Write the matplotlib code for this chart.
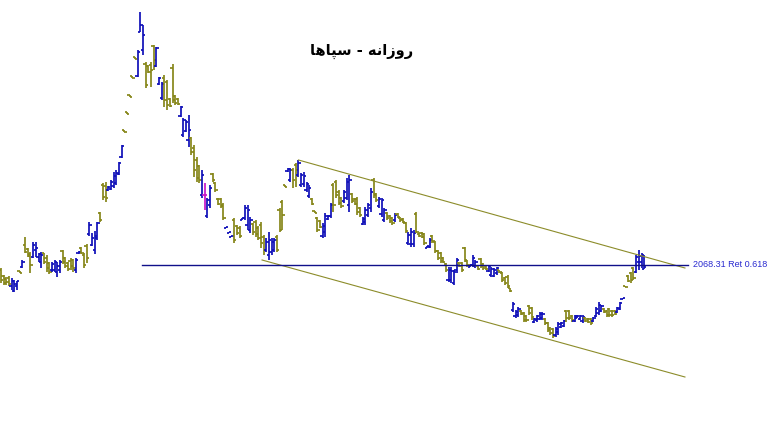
import matplotlib
matplotlib.use("Agg")
import matplotlib.pyplot as plt
from matplotlib.collections import LineCollection

# ---- data (daily OHLC) ----
opens = [2018,1958,1928,1938,1858,1808,1858,2008,2048,2268,
2228,2178,2148,2218,2148,2098,2188,2138,2088,2018,
2018,1998,2018,2208,2138,2088,2108,2118,2018,2188,
2238,2168,2258,2378,2268,2218,2338,2588,2868,2858,
2818,2828,2858,2888,2978,3148,3418,3598,3768,3958,
4148,3958,4398,4218,4078,4058,4068,4258,4058,3878,
3738,3938,3898,3728,4038,3758,3728,3558,3368,3408,
3318,3338,3238,3118,3058,2768,2768,2558,2668,2978,
2888,2728,2728,2668,2438,2388,2348,2518,2458,2438,
2518,2538,2468,2418,2478,2498,2438,2468,2348,2218,
2168,2198,2218,2348,2618,2698,2868,3008,2918,3018,
3068,2968,2868,2878,2818,2758,2728,2608,2538,2508,
2358,2398,2528,2558,2868,2898,2798,2738,2708,2738,
2668,2778,2728,2728,2638,2478,2498,2568,2638,2918,
2778,2658,2578,2518,2588,2558,2538,2518,2578,2538,
2528,2488,2288,2278,2278,2578,2378,2388,2378,2238,
2248,2358,2298,2208,2188,2138,2078,1918,1918,1888,
2018,2088,2088,2238,2108,2048,2068,2058,2058,2128,
2078,2058,2008,1968,1958,1988,2018,1988,1938,1948,
1838,1618,1558,1568,1608,1588,1558,1658,1638,1498,
1518,1528,1538,1528,1488,1438,1428,1368,1398,1448,
1458,1608,1608,1558,1508,1538,1528,1508,1538,1528,
1528,1508,1558,1588,1608,1628,1608,1628,1608,1608,
1598,1628,1728,1858,1958,1988,2038,1998,2098,2098,
2028]

highs = [2038,1968,1948,1958,1938,1918,1908,2008,2118,2348,
2238,2198,2298,2298,2188,2198,2188,2168,2098,2098,
2118,2098,2118,2218,2148,2098,2138,2128,2138,2208,
2248,2188,2278,2498,2388,2408,2498,2598,2888,2898,
2858,2918,2998,3018,3098,3268,3418,3598,3768,3958,
4148,4218,4598,4468,4098,4068,4098,4268,4248,3948,
3898,3968,3918,3738,4078,3768,3738,3658,3538,3518,
3568,3348,3268,3148,3068,3018,2888,2738,2868,2988,
2898,2738,2738,2688,2448,2398,2358,2538,2468,2458,
2538,2668,2668,2548,2488,2518,2458,2498,2368,2338,
2398,2338,2338,2368,2638,2718,2868,3038,3038,3038,
3088,3118,2988,2998,2898,2868,2738,2608,2548,2518,
2488,2588,2568,2688,2888,2918,2818,2748,2818,2938,
2968,2788,2738,2748,2648,2548,2648,2688,2838,2938,
2788,2748,2738,2638,2598,2568,2548,2588,2588,2548,
2538,2498,2398,2438,2418,2598,2388,2398,2388,2258,
2338,2368,2308,2218,2198,2148,2088,2048,2048,2018,
2138,2098,2098,2248,2118,2068,2168,2118,2068,2138,
2088,2068,2068,2048,2038,2048,2018,1998,1948,1968,
1838,1698,1618,1648,1618,1598,1568,1668,1648,1538,
1568,1598,1598,1538,1498,1448,1438,1448,1498,1498,
1518,1618,1618,1568,1568,1568,1568,1568,1548,1538,
1538,1548,1648,1698,1668,1638,1618,1638,1618,1618,
1648,1698,1738,1858,1968,1998,2048,2168,2218,2188,
2168]

lows = [1888,1868,1868,1858,1818,1798,1818,1988,2038,2188,
2148,1988,2138,2148,2098,2038,2078,1998,1978,1998,
1998,1948,1988,2078,2038,2008,2018,1998,1988,2178,
2178,2038,2088,2358,2258,2178,2318,2498,2718,2698,
2808,2818,2838,2868,2968,3138,3398,3578,3748,3938,
4128,3948,4398,4168,3838,3988,3848,4018,4048,3868,
3718,3648,3618,3648,3688,3668,3668,3548,3348,3398,
3248,3168,2948,2898,2888,2738,2618,2538,2638,2898,
2798,2668,2638,2518,2438,2388,2348,2288,2368,2338,
2518,2518,2418,2388,2368,2348,2318,2238,2168,2198,
2118,2168,2198,2198,2398,2418,2848,2998,2898,2838,
2848,2948,2848,2848,2798,2738,2668,2588,2398,2438,
2338,2348,2518,2538,2598,2738,2668,2638,2688,2718,
2598,2688,2668,2568,2548,2468,2468,2548,2598,2738,
2698,2638,2548,2498,2518,2488,2468,2498,2538,2498,
2488,2388,2268,2248,2248,2388,2348,2338,2268,2238,
2238,2288,2188,2118,2088,2088,1998,1898,1888,1868,
1988,2048,1998,2098,2048,2048,2048,2038,2018,2038,
2018,2018,1998,1948,1948,1968,1988,1898,1868,1838,
1798,1598,1538,1548,1568,1498,1498,1568,1518,1488,
1498,1518,1518,1468,1398,1368,1338,1348,1368,1438,
1448,1498,1518,1498,1498,1538,1518,1488,1498,1488,
1468,1498,1548,1568,1598,1588,1548,1548,1548,1568,
1588,1618,1728,1848,1898,1888,1918,1988,2018,2038,
2028]

closes = [1918,1888,1898,1878,1908,1878,1908,1988,2098,2198,
2158,2068,2268,2238,2178,2168,2098,2038,1998,2078,
2098,2058,2098,2098,2058,2028,2058,2038,2118,2198,
2188,2068,2138,2468,2338,2358,2488,2518,2748,2738,
2848,2898,2958,2988,3088,3258,3398,3578,3748,3938,
4128,4198,4468,4368,3868,3998,4018,4118,4238,3938,
3878,3718,3668,3658,3718,3688,3678,3648,3518,3498,
3418,3198,3018,2938,2918,2968,2768,2718,2838,2918,
2818,2678,2658,2538,2448,2398,2358,2318,2388,2358,
2538,2638,2618,2518,2398,2378,2338,2288,2218,2298,
2318,2298,2318,2218,2418,2568,2848,3028,3018,2918,
3018,3088,2968,2958,2878,2838,2678,2588,2418,2448,
2458,2558,2558,2668,2668,2768,2688,2658,2798,2898,
2918,2708,2678,2598,2568,2528,2618,2668,2798,2768,
2718,2728,2718,2618,2538,2508,2488,2568,2548,2518,
2498,2408,2368,2398,2388,2398,2358,2348,2288,2258,
2318,2308,2208,2138,2108,2098,2018,2018,2008,1998,
2118,2058,2018,2118,2068,2068,2138,2098,2028,2058,
2038,2028,2058,2028,2018,2038,1998,1918,1888,1858,
1808,1678,1598,1628,1578,1518,1518,1588,1548,1528,
1558,1578,1578,1488,1418,1388,1358,1428,1478,1488,
1508,1538,1538,1518,1558,1558,1558,1548,1508,1498,
1488,1538,1628,1668,1658,1598,1568,1568,1568,1578,
1638,1688,1738,1848,1908,1918,1938,2148,2158,2168,
2048]

# channel anchors (bar index, price) and retracement level
upper_bar = [111, 255.2]
upper_price = [3118, 2038]
lower_bar = [97.4, 255.2]
lower_price = [2118, 948]
ret_level = 2068.31
ret_bars = [52.6, 256.3]
ret_label = "2068.31 Ret 0.618"

# title "سپاها - روزانه" as Arabic presentation forms in visual (left-to-right) order,
# because matplotlib lays glyphs out left to right without shaping
title = "\uFE8E\uFEEB\uFE8E\uFB59\uFEB3 - \uFEEA\uFEE7\uFE8D\uFEAF\uFEED\uFEAD"

BLUE = "#1010b8"
OLIVE = "#86861a"
MAGENTA = "#c818c8"

fig = plt.figure(figsize=(7.81, 4.41), dpi=100)
ax = fig.add_axes([0, 0, 1, 1])
ax.axis("off")
ax.set_xlim(-0.373, 291.04)
ax.set_ylim(308, 4718)

w = 0.85
segs, cols = [], []
for i, (o, h, l, c) in enumerate(zip(opens, highs, lows, closes)):
    col = BLUE if c > o else (OLIVE if c < o else MAGENTA)
    segs += [[(i, l), (i, h)], [(i - w, o), (i, o)], [(i, c), (i + w, c)]]
    cols += [col] * 3
ax.add_collection(LineCollection(segs, colors=cols, linewidths=1.25,
                                 antialiaseds=True, capstyle="butt"))

ax.plot(upper_bar, upper_price, color="#8c8c2a", lw=0.8)
ax.plot(lower_bar, lower_price, color="#8c8c2a", lw=0.8)
ax.plot(ret_bars, [ret_level, ret_level], color="#10108a", lw=1.0)
ax.text(ret_bars[1] + 1.8, ret_level, ret_label, color="#2a2ad0",
        fontsize=6.5, family="Liberation Sans", va="center", ha="left")

fig.text(362 / 781, 1 - 51 / 441, title, fontsize=10.5, fontweight="bold",
         family=["DejaVu Sans"], ha="center", va="center", color="black")

fig.savefig("out.png", dpi=100)
